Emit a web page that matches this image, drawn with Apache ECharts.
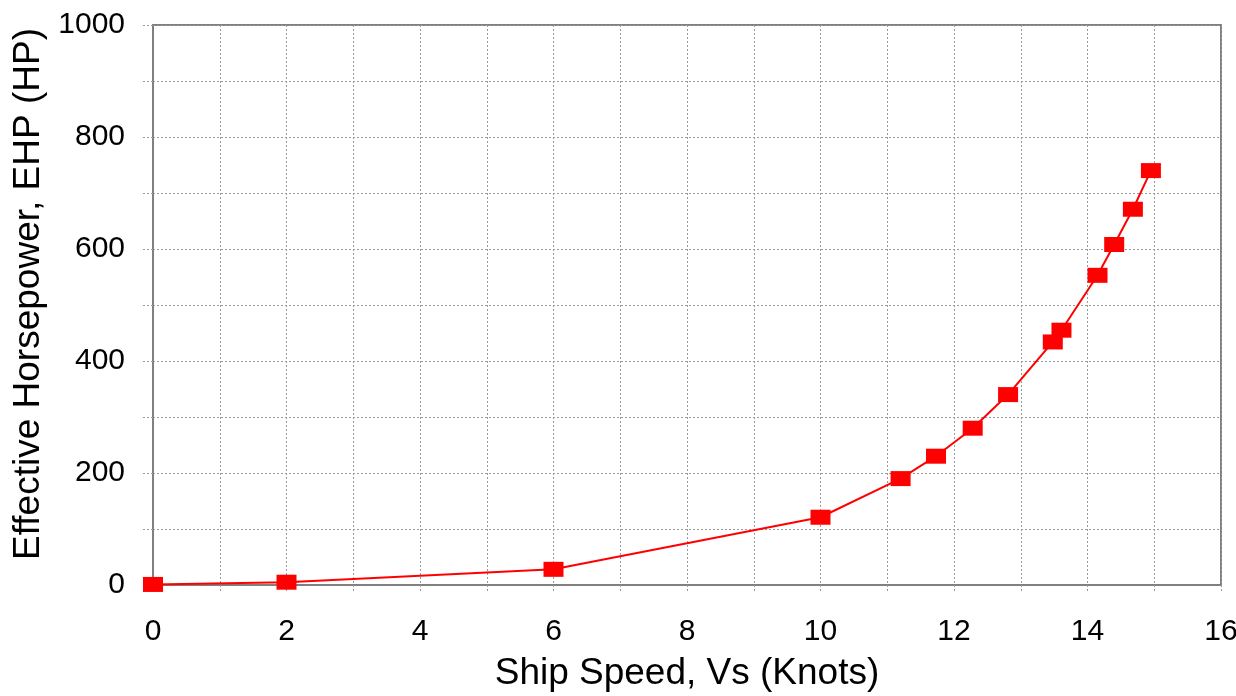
<!DOCTYPE html>
<html>
<head>
<meta charset="utf-8">
<script src="https://cdn.jsdelivr.net/npm/echarts@6/dist/echarts.min.js"></script>
<style>
  html, body { margin: 0; padding: 0; background: #fff; }
  #chart { width: 1236px; height: 696px; }
</style>
</head>
<body>
<div id="chart"></div>
<script>
// ship speed (knots) and effective horsepower readings
var speeds = [0, 2, 6, 10, 11.2, 11.73, 12.28, 12.81, 13.48, 13.61, 14.15, 14.4, 14.68, 14.95]
var ehp = [1, 5, 28, 121, 190, 230, 280, 340, 434, 455, 553, 608, 671, 740]

var font = 'Liberation Sans, Arial, sans-serif'
var gridDots = { color: '#999', width: 1, type: [2, 2] }

var myChart = echarts.init(document.getElementById('chart'))
myChart.setOption({
  animation: false,
  backgroundColor: '#fff',
  grid: {
    left: 153, right: 15, top: 25, bottom: 111,
    outerBoundsMode: 'none',
    show: true, borderColor: '#808080', borderWidth: 2
  },
  xAxis: {
    type: 'value', min: 0, max: 16, interval: 2,
    name: 'Ship Speed, Vs (Knots)', nameLocation: 'middle', nameGap: 70,
    nameTextStyle: { fontFamily: font, fontSize: 37, color: '#000' },
    axisLine: { show: true, onZero: false, lineStyle: { color: '#808080', width: 2 } },
    axisTick: { show: true, length: 8, lineStyle: gridDots },
    minorTick: { show: true, splitNumber: 2, length: 8, lineStyle: gridDots },
    axisLabel: { fontFamily: font, fontSize: 30, color: '#000', margin: 32 },
    splitLine: { show: true, lineStyle: gridDots },
    minorSplitLine: { show: true, lineStyle: gridDots }
  },
  yAxis: {
    type: 'value', min: 0, max: 1000, interval: 200,
    name: 'Effective Horsepower, EHP (HP)', nameLocation: 'middle', nameGap: 95,
    nameTextStyle: { fontFamily: font, fontSize: 37, color: '#000', padding: [0, 0, 0, 22] },
    axisLine: { show: true, lineStyle: { color: '#808080', width: 2 } },
    axisTick: { show: true, length: 10, lineStyle: gridDots },
    minorTick: { show: true, splitNumber: 2, length: 10, lineStyle: gridDots },
    axisLabel: {
      fontFamily: font, fontSize: 30, color: '#000', margin: 28,
      formatter: function (v) { return String(v) }
    },
    splitLine: { show: true, lineStyle: gridDots },
    minorSplitLine: { show: true, lineStyle: gridDots }
  },
  series: [{
    type: 'line',
    data: speeds.map(function (s, i) { return [s, ehp[i]] }),
    symbol: 'rect',
    symbolSize: [20, 15],
    itemStyle: { color: '#ff0000' },
    lineStyle: { color: '#ff0000', width: 2 }
  }]
})
</script>
</body>
</html>
